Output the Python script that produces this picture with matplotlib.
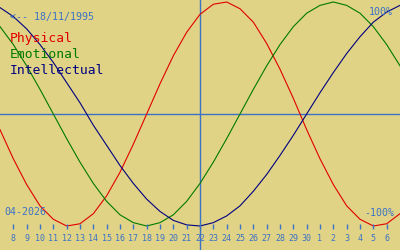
import matplotlib
matplotlib.use("Agg")
import matplotlib.pyplot as plt
import matplotlib.transforms as mtransforms

# day positions: 0 = 7 April, 30 = 7 May
days = list(range(31))
tick_labels = [str(d) for d in range(8, 31)] + [str(d) for d in range(1, 7)]
today = 15  # 22 April

physical = [-0.14, -0.40, -0.63, -0.82, -0.94, -1.00, -0.98, -0.89, -0.73, -0.52, -0.27,
            0.00, 0.27, 0.52, 0.73, 0.89, 0.98, 1.00, 0.94, 0.82, 0.63, 0.40, 0.14,
            -0.14, -0.40, -0.63, -0.82, -0.94, -1.00, -0.98, -0.89]
emotional = [0.78, 0.62, 0.43, 0.22, 0.00, -0.22, -0.43, -0.62, -0.78, -0.90, -0.97,
             -1.00, -0.97, -0.90, -0.78, -0.62, -0.43, -0.22, 0.00, 0.22, 0.43, 0.62,
             0.78, 0.90, 0.97, 1.00, 0.97, 0.90, 0.78, 0.62, 0.43]
intellectual = [0.95, 0.87, 0.76, 0.62, 0.46, 0.28, 0.10, -0.10, -0.28, -0.46, -0.62,
                -0.76, -0.87, -0.95, -0.99, -1.00, -0.97, -0.91, -0.82, -0.69, -0.54,
                -0.37, -0.19, 0.00, 0.19, 0.37, 0.54, 0.69, 0.82, 0.91, 0.97]

bg = "#e1d385"
accent = "#3a72c6"
mono = "DejaVu Sans Mono"

fig = plt.figure(figsize=(4, 2.5), dpi=100, facecolor=bg)
ax = fig.add_axes([0, 0, 1, 1], facecolor=bg)
ax.set_xlim(0, 30)
ax.set_ylim(-136 / 112, 114 / 112)
ax.axis("off")

ax.axhline(0, color=accent, lw=1.0)
ax.axvline(today, color=accent, lw=1.0)

ax.plot(days, physical, color="#e00000", lw=0.8)
ax.plot(days, emotional, color="#007a00", lw=0.8)
ax.plot(days, intellectual, color="#000080", lw=0.8)

# day ticks along the bottom
tr = mtransforms.blended_transform_factory(ax.transData, ax.transAxes)
tick_x = days[1:30]
ax.vlines(tick_x, 0.083, 0.103, transform=tr, color=accent, lw=1.0)
for x, lab in zip(tick_x, tick_labels):
    ax.text(x, 0.047, lab, transform=tr, ha="center", va="center",
            fontsize=6.0, color=accent, family=mono)

ax.text(0.025, 0.932, "<-- 18/11/1995", transform=ax.transAxes, ha="left", va="center",
        fontsize=7.2, color=accent, family=mono)
ax.text(0.025, 0.832, "Physical", transform=ax.transAxes, ha="left", va="baseline",
        fontsize=9.4, color="#e00000", family=mono)
ax.text(0.025, 0.768, "Emotional", transform=ax.transAxes, ha="left", va="baseline",
        fontsize=9.4, color="#007a00", family=mono)
ax.text(0.025, 0.706, "Intellectual", transform=ax.transAxes, ha="left", va="baseline",
        fontsize=9.4, color="#000080", family=mono)
ax.text(0.983, 0.952, "100%", transform=ax.transAxes, ha="right", va="center",
        fontsize=7.2, color=accent, family=mono)
ax.text(0.985, 0.150, "-100%", transform=ax.transAxes, ha="right", va="center",
        fontsize=7.2, color=accent, family=mono)
ax.text(0.01, 0.152, "04-2026", transform=ax.transAxes, ha="left", va="center",
        fontsize=7.2, color=accent, family=mono)

fig.savefig("out.png", dpi=100, facecolor=bg)
